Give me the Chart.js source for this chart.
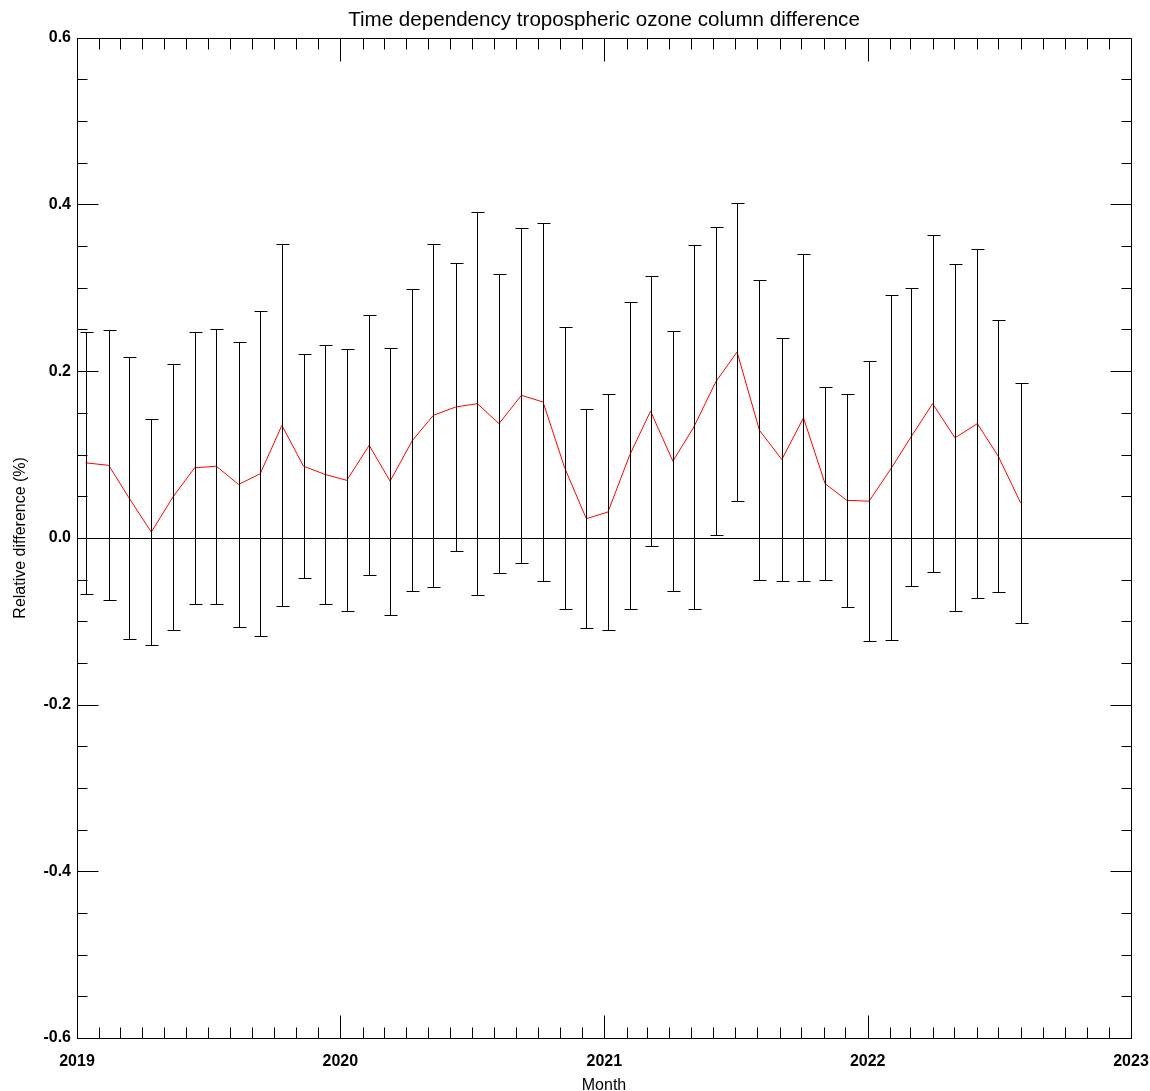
<!DOCTYPE html>
<html>
<head>
<meta charset="utf-8">
<script src="https://cdn.jsdelivr.net/npm/chart.js@4.4.0/dist/chart.umd.min.js"></script>
<style>
  body { margin: 0; background: #fff; }
</style>
</head>
<body>
<canvas id="ozoneChart" width="1150" height="1091"></canvas>
<script>
// monthly mean relative difference and its spread (error bar half-width)
const dates = [
  '2019-01-13', '2019-02-14', '2019-03-14', '2019-04-14', '2019-05-14', '2019-06-13',
  '2019-07-13', '2019-08-13', '2019-09-12', '2019-10-12', '2019-11-11', '2019-12-11',
  '2020-01-10', '2020-02-10', '2020-03-10', '2020-04-10', '2020-05-09', '2020-06-09',
  '2020-07-09', '2020-08-08', '2020-09-08', '2020-10-08', '2020-11-07', '2020-12-07',
  '2021-01-06', '2021-02-05', '2021-03-06', '2021-04-06', '2021-05-05', '2021-06-05',
  '2021-07-04', '2021-08-04', '2021-09-04', '2021-10-04', '2021-11-03', '2021-12-03',
  '2022-01-03', '2022-02-03', '2022-03-02', '2022-04-01', '2022-05-02', '2022-06-02',
  '2022-07-01', '2022-08-01'
];
const meanDiff = [
  0.090, 0.087, 0.048, 0.007, 0.049, 0.084, 0.086, 0.064, 0.077, 0.135, 0.086, 0.076,
  0.069, 0.111, 0.068, 0.117, 0.147, 0.157, 0.161, 0.137, 0.171, 0.163, 0.084, 0.023,
  0.031, 0.099, 0.152, 0.092, 0.133, 0.188, 0.223, 0.129, 0.094, 0.144, 0.065, 0.045,
  0.044, 0.084, 0.121, 0.161, 0.120, 0.137, 0.098, 0.042
];
const errDiff = [
  0.157, 0.162, 0.169, 0.135, 0.159, 0.163, 0.165, 0.171, 0.195, 0.217, 0.134, 0.155,
  0.157, 0.156, 0.160, 0.181, 0.206, 0.173, 0.230, 0.179, 0.201, 0.215, 0.169, 0.131,
  0.141, 0.184, 0.162, 0.156, 0.218, 0.185, 0.179, 0.180, 0.146, 0.196, 0.116, 0.128,
  0.168, 0.207, 0.179, 0.202, 0.208, 0.209, 0.163, 0.144
];
const yearLabels = ['2019', '2020', '2021', '2022', '2023'];
const yTickLabels = ['-0.6', '-0.4', '-0.2', '0.0', '0.2', '0.4', '0.6'];

const origin = Date.UTC(2019, 0, 1);
function dayOf(str) {
  const p = str.split('-').map(Number);
  return (Date.UTC(p[0], p[1] - 1, p[2]) - origin) / 86400000;
}
const xDays = dates.map(dayOf);
const yearDays = yearLabels.map(y => dayOf(y + '-01-01'));

const FONT = "'Liberation Sans', Arial, sans-serif";

// frame, inward ticks, zero line and error bars
const idlAxes = {
  id: 'idlAxes',
  beforeDatasetsDraw(chart) {
    const {ctx, chartArea: a, scales: {y}} = chart;
    const y0 = Math.round(y.getPixelForValue(0)) + 0.5;
    ctx.save();
    ctx.strokeStyle = '#000';
    ctx.lineWidth = 1;
    ctx.beginPath();
    ctx.moveTo(a.left, y0);
    ctx.lineTo(a.right, y0);
    ctx.stroke();
    ctx.restore();
  },
  afterDatasetsDraw(chart) {
    const {ctx, chartArea: a, scales: {x, y}} = chart;
    ctx.save();
    ctx.strokeStyle = '#000';
    ctx.lineWidth = 1;
    ctx.beginPath();
    xDays.forEach((d, i) => {
      const px = Math.round(x.getPixelForValue(d)) + 0.5;
      const top = Math.round(y.getPixelForValue(meanDiff[i] + errDiff[i])) + 0.5;
      const bot = Math.round(y.getPixelForValue(meanDiff[i] - errDiff[i])) + 0.5;
      ctx.moveTo(px, top); ctx.lineTo(px, bot);
      ctx.moveTo(px - 6, top); ctx.lineTo(px + 7, top);
      ctx.moveTo(px - 6, bot); ctx.lineTo(px + 7, bot);
    });
    ctx.stroke();

    // box
    const L = Math.round(a.left) + 0.5, R = Math.round(a.right) + 0.5;
    const T = Math.round(a.top) + 0.5, B = Math.round(a.bottom) + 0.5;
    ctx.strokeRect(L, T, R - L, B - T);

    ctx.beginPath();
    // y ticks every 0.05, major every 0.2
    for (let k = -12; k <= 12; k++) {
      const py = Math.round(y.getPixelForValue(k * 0.05)) + 0.5;
      const len = (k % 4 === 0) ? 21 : 10;
      ctx.moveTo(L, py); ctx.lineTo(L + len, py);
      ctx.moveTo(R, py); ctx.lineTo(R - len, py);
    }
    // x ticks: each month, longer at each year
    for (let yr = 2019; yr <= 2022; yr++) {
      for (let m = 0; m < 12; m++) {
        const d = (Date.UTC(yr, m, 1) - origin) / 86400000;
        const px = Math.round(x.getPixelForValue(d)) + 0.5;
        const len = m === 0 ? 23 : 11;
        ctx.moveTo(px, B); ctx.lineTo(px, B - len);
        ctx.moveTo(px, T); ctx.lineTo(px, T + len);
      }
    }
    ctx.stroke();
    ctx.restore();
  }
};

new Chart(document.getElementById('ozoneChart'), {
  type: 'line',
  data: {
    datasets: [{
      label: 'Relative difference',
      data: xDays.map((d, i) => ({x: d, y: meanDiff[i]})),
      borderColor: '#ff0000',
      borderWidth: 1,
      pointRadius: 0,
      tension: 0,
      fill: false
    }]
  },
  options: {
    responsive: false,
    animation: false,
    layout: {padding: {left: 0, right: 19, top: 0, bottom: 0}},
    plugins: {
      legend: {display: false},
      tooltip: {enabled: false},
      title: {
        display: true,
        text: 'Time dependency tropospheric ozone column difference',
        fullSize: false,
        color: '#000',
        font: {family: FONT, size: 20.6, weight: 'normal', lineHeight: 1.2},
        padding: {top: 8, bottom: 5}
      }
    },
    scales: {
      x: {
        type: 'linear',
        min: yearDays[0],
        max: yearDays[yearDays.length - 1],
        grid: {display: false, drawTicks: false},
        border: {display: false},
        afterBuildTicks: s => { s.ticks = yearDays.map(v => ({value: v})); },
        afterFit: s => { s.height = 53; s.paddingLeft = 0; s.paddingRight = 0; },
        ticks: {
          autoSkip: false,
          maxRotation: 0,
          padding: 14,
          color: '#000',
          font: {family: FONT, size: 16, weight: 'bold'},
          callback: (v, i) => yearLabels[i]
        },
        title: {
          display: true,
          text: 'Month',
          color: '#000',
          font: {family: FONT, size: 16, lineHeight: 0.875},
          padding: {top: 0, bottom: -2}
        }
      },
      y: {
        min: -0.6,
        max: 0.6,
        grid: {display: false, drawTicks: false},
        border: {display: false},
        afterBuildTicks: s => { s.ticks = yTickLabels.map(t => ({value: parseFloat(t)})); },
        afterFit: s => { s.width = 77; },
        ticks: {
          autoSkip: false,
          padding: 6,
          color: '#000',
          font: {family: FONT, size: 16, weight: 'bold'},
          callback: (v, i) => yTickLabels[i]
        },
        title: {
          display: true,
          text: 'Relative difference (%)',
          color: '#000',
          font: {family: FONT, size: 16, lineHeight: 1.2},
          padding: {top: 11, bottom: 0}
        }
      }
    }
  },
  plugins: [idlAxes]
});
</script>
</body>
</html>
